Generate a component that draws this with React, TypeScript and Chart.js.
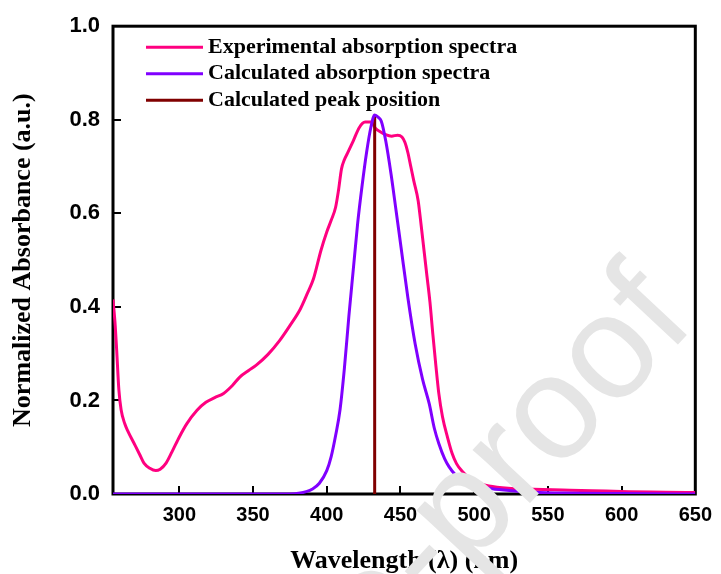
import React, { useEffect, useRef } from 'react';
import { Chart, registerables } from 'chart.js';
Chart.register(...registerables);

// Experimental absorption spectrum (wavelength nm, normalized absorbance)
const EXP_WL = [255, 256.5, 257.5, 259, 260.5, 263, 265, 269, 273, 276, 280, 284, 287, 291, 295, 300, 305, 312, 318, 324, 330, 336, 341, 347, 352, 360, 368, 375, 382, 387, 391, 396, 400, 403, 406, 408, 410, 412, 414, 418, 422, 426, 430, 433, 436, 440, 444, 448, 451, 453, 455, 457, 459, 462, 464, 466, 468, 470, 472, 474, 476, 478.5, 482, 485, 488, 492, 497, 503, 510, 525, 540, 560, 580, 605, 630, 650];
const EXP_ABS = [0.416, 0.36, 0.307, 0.222, 0.18, 0.15, 0.135, 0.11, 0.085, 0.066, 0.055, 0.05, 0.053, 0.066, 0.09, 0.122, 0.15, 0.179, 0.196, 0.206, 0.215, 0.232, 0.25, 0.264, 0.275, 0.298, 0.328, 0.36, 0.395, 0.43, 0.46, 0.52, 0.56, 0.585, 0.613, 0.65, 0.695, 0.715, 0.728, 0.755, 0.783, 0.795, 0.795, 0.782, 0.775, 0.768, 0.765, 0.767, 0.763, 0.752, 0.73, 0.7, 0.67, 0.627, 0.575, 0.52, 0.465, 0.41, 0.34, 0.275, 0.215, 0.165, 0.12, 0.087, 0.065, 0.048, 0.033, 0.023, 0.017, 0.012, 0.01, 0.0085, 0.007, 0.005, 0.004, 0.003];

// Calculated absorption spectrum
const CALC_WL = [255, 300, 350, 375, 382, 386, 390, 395, 400, 403, 406, 409, 412, 415, 418, 421, 424, 427, 430, 432.5, 435, 437, 440, 443.6, 447, 450.4, 455, 460, 465, 469.5, 473, 476, 480, 483, 487, 492, 497, 503, 512, 525, 540, 560, 600, 650];
const CALC_ABS = [0, 0, 0, 0, 0.002, 0.005, 0.01, 0.023, 0.05, 0.08, 0.125, 0.18, 0.27, 0.38, 0.48, 0.58, 0.66, 0.73, 0.785, 0.81, 0.805, 0.797, 0.755, 0.684, 0.606, 0.527, 0.42, 0.32, 0.245, 0.193, 0.14, 0.108, 0.075, 0.058, 0.042, 0.03, 0.021, 0.016, 0.011, 0.007, 0.004, 0.002, 0.001, 0];

// Calculated peak position
const PEAK_WL = 432.5;
const PEAK_ABS = 0.81;

const X_TICKS = [300, 350, 400, 450, 500, 550, 600, 650];
const Y_TICKS = [0, 0.2, 0.4, 0.6, 0.8, 1.0];
const SERIES_LABELS = ['Experimental absorption spectra', 'Calculated absorption spectra', 'Calculated peak position'];
const SERIES_COLORS = ['#FF0080', '#8000FF', '#800000'];
const X_TITLE = 'Wavelength (\u03bb) (nm)';
const Y_TITLE = 'Normalized Absorbance (a.u.)';
const WATERMARK = 'Journal Pre-proof';

export default function App() {
  const ref = useRef<HTMLCanvasElement>(null);

  useEffect(() => {
    document.body.style.margin = '0';
    const canvas = ref.current;
    if (!canvas) return;

    const framePlugin = {
      id: 'framePlugin',
      beforeDatasetsDraw(chart: any) {
        const { ctx, chartArea: a, scales } = chart;
        const x = scales.x;
        const y = scales.y;
        ctx.save();
        ctx.strokeStyle = '#000';
        ctx.lineWidth = 3;
        ctx.strokeRect(a.left, a.top, a.right - a.left, a.bottom - a.top);
        ctx.lineWidth = 2;
        ctx.beginPath();
        X_TICKS.forEach((v) => {
          const px = Math.round(x.getPixelForValue(v));
          ctx.moveTo(px, a.bottom);
          ctx.lineTo(px, a.bottom - 8);
        });
        Y_TICKS.forEach((v) => {
          const py = Math.round(y.getPixelForValue(v));
          ctx.moveTo(a.left, py);
          ctx.lineTo(a.left + 8, py);
        });
        ctx.stroke();
        ctx.restore();
      },
      afterDraw(chart: any) {
        const { ctx, chartArea: a } = chart;
        ctx.save();
        // legend
        chart.data.datasets.forEach((ds: any, i: number) => {
          const yy = a.top + 21 + i * 26.5;
          ctx.strokeStyle = ds.borderColor;
          ctx.lineWidth = 3;
          ctx.beginPath();
          ctx.moveTo(a.left + 33, yy);
          ctx.lineTo(a.left + 90, yy);
          ctx.stroke();
          ctx.fillStyle = '#000';
          ctx.font = 'bold 22px "Liberation Serif", "Times New Roman", serif';
          ctx.textBaseline = 'middle';
          ctx.textAlign = 'left';
          ctx.fillText(ds.label, a.left + 95, yy);
        });
        // watermark
        ctx.translate(697, 324);
        ctx.rotate(-47 * Math.PI / 180);
        ctx.fillStyle = '#e5e5e5';
        ctx.font = '148px "Liberation Sans", Arial, sans-serif';
        ctx.textAlign = 'right';
        ctx.textBaseline = 'alphabetic';
        ctx.fillText(WATERMARK, 0, 0);
        ctx.restore();
      },
    };

    const chart = new Chart(canvas, {
      type: 'line',
      data: {
        datasets: [
          {
            label: SERIES_LABELS[0],
            data: EXP_WL.map((w, i) => ({ x: w, y: EXP_ABS[i] })),
            borderColor: SERIES_COLORS[0],
            borderWidth: 3,
            pointRadius: 0,
            cubicInterpolationMode: 'monotone',
            fill: false,
            order: 3,
          },
          {
            label: SERIES_LABELS[1],
            data: CALC_WL.map((w, i) => ({ x: w, y: CALC_ABS[i] })),
            borderColor: SERIES_COLORS[1],
            borderWidth: 3,
            pointRadius: 0,
            cubicInterpolationMode: 'monotone',
            fill: false,
            order: 1,
          },
          {
            label: SERIES_LABELS[2],
            data: [{ x: PEAK_WL, y: 0 }, { x: PEAK_WL, y: PEAK_ABS }],
            borderColor: SERIES_COLORS[2],
            borderWidth: 3,
            pointRadius: 0,
            fill: false,
            order: 2,
          },
        ],
      },
      options: {
        animation: false,
        responsive: false,
        events: [],
        layout: { padding: { top: 25, right: 23, left: 0, bottom: 0 } },
        plugins: { legend: { display: false }, tooltip: { enabled: false } },
        scales: {
          x: {
            type: 'linear',
            min: 255,
            max: 650,
            afterFit: (s: any) => { s.height = 80; },
            afterBuildTicks: (s: any) => { s.ticks = X_TICKS.map((v) => ({ value: v })); },
            grid: { display: false, drawTicks: false },
            border: { display: false },
            ticks: {
              color: '#000',
              padding: 9,
              maxRotation: 0,
              font: { family: '"Liberation Sans", Arial, sans-serif', weight: 'bold', size: 20 },
              callback: (v: any) => String(v),
            },
            title: {
              display: true,
              text: X_TITLE,
              color: '#000',
              padding: { top: 0, bottom: 0 },
              font: { family: '"Liberation Serif", "Times New Roman", serif', weight: 'bold', size: 26, lineHeight: 1.0 },
            },
          },
          y: {
            type: 'linear',
            min: 0,
            max: 1,
            afterFit: (s: any) => { s.width = 113; },
            afterBuildTicks: (s: any) => { s.ticks = Y_TICKS.map((v) => ({ value: v })); },
            grid: { display: false, drawTicks: false },
            border: { display: false },
            ticks: {
              color: '#000',
              padding: 13,
              font: { family: '"Liberation Sans", Arial, sans-serif', weight: 'bold', size: 22 },
              callback: (v: any) => Number(v).toFixed(1),
            },
            title: {
              display: true,
              text: Y_TITLE,
              color: '#000',
              padding: { top: 8, bottom: 0 },
              font: { family: '"Liberation Serif", "Times New Roman", serif', weight: 'bold', size: 26, lineHeight: 1.2 },
            },
          },
        },
      },
      plugins: [framePlugin],
    } as any);

    return () => chart.destroy();
  }, []);

  return (
    <div style={{ width: 721, height: 574 }}>
      <canvas ref={ref} width={721} height={574} style={{ display: 'block', width: 721, height: 574 }} />
    </div>
  );
}
